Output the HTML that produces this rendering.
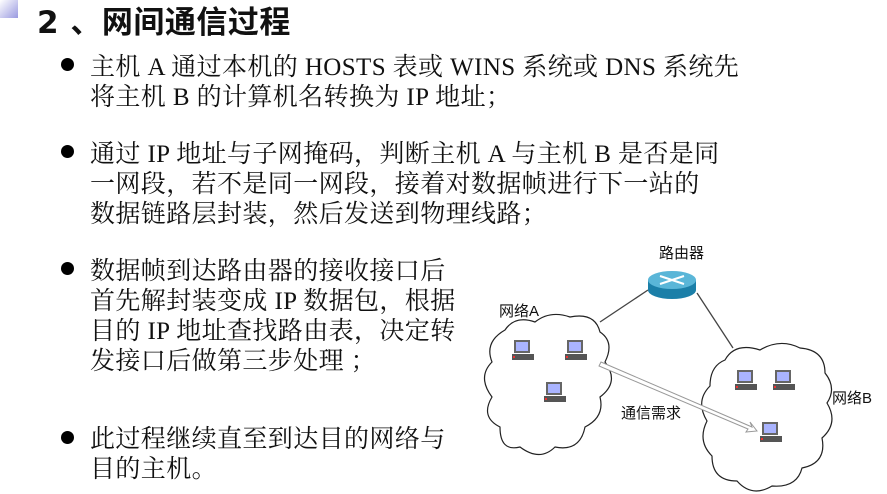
<!DOCTYPE html>
<html><head><meta charset="utf-8"><style>
body{margin:0;width:887px;height:494px;background:#fff;position:relative;overflow:hidden;font-family:"Liberation Serif","Noto Serif CJK SC","Noto Sans CJK SC",serif;color:#111}
.t{position:absolute;left:37px;top:-3px;font-family:"DejaVu Sans","Noto Sans CJK SC",sans-serif;font-size:31px;font-weight:bold;white-space:nowrap;letter-spacing:0.5px}
.p{position:absolute;left:90px;font-size:25px;line-height:30px;white-space:nowrap;letter-spacing:0.4px}
.b{position:absolute;left:61px;width:13px;height:13px;border-radius:50%;background:#000}
</style></head><body>
<div style="position:absolute;left:0;top:0;width:18px;height:18px;background:linear-gradient(135deg,#fff,#9a9ae0)"></div>
<div class="t">2 、网间通信过程</div>
<div class="b" style="top:58px"></div>
<div class="p" style="top:53px">主机 A 通过本机的 HOSTS 表或 WINS 系统或 DNS 系统先<br>将主机 B 的计算机名转换为 IP 地址；</div>
<div class="b" style="top:145px"></div>
<div class="p" style="top:140px">通过 IP 地址与子网掩码，判断主机 A 与主机 B 是否是同<br>一网段，若不是同一网段，接着对数据帧进行下一站的<br>数据链路层封装，然后发送到物理线路；</div>
<div class="b" style="top:262px"></div>
<div class="p" style="top:257px">数据帧到达路由器的接收接口后<br>首先解封装变成 IP 数据包，根据<br>目的 IP 地址查找路由表，决定转<br>发接口后做第三步处理 ；</div>
<div class="b" style="top:431px"></div>
<div class="p" style="top:425px">此过程继续直至到达目的网络与<br>目的主机。</div>
<svg style="position:absolute;left:0;top:0" width="887" height="494">
<defs>
<g id="pc"><rect x="2" y="0" width="16" height="13" fill="#666"/><rect x="4" y="2" width="12" height="9" fill="#aab4ff"/><rect x="0" y="14" width="22" height="6" fill="#555"/><rect x="1" y="16" width="2" height="2" fill="#e33"/></g>
</defs>
<g fill="#fff" stroke="#222" stroke-width="1.2">
<path d="M505,330 q10,-15 30,-8 q15,-12 35,-5 q25,-5 30,15 q15,10 5,30 q15,20 -5,35 q5,20 -15,30 q-5,25 -30,20 q-15,15 -35,0 q-20,5 -20,-20 q-20,-10 -8,-30 q-15,-20 0,-35 q-8,-20 13,-32z"/>
<path d="M725,360 q10,-18 35,-10 q20,-12 40,-2 q25,2 25,25 q12,15 2,30 q12,20 -5,35 q5,25 -20,30 q-5,20 -30,18 q-20,12 -35,-5 q-25,0 -25,-25 q-15,-15 -5,-35 q-12,-20 3,-35 q0,-20 15,-26z"/>
</g>
<line x1="600" y1="322" x2="648" y2="290" stroke="#444" stroke-width="1.3"/>
<line x1="697" y1="293" x2="733" y2="348" stroke="#444" stroke-width="1.3"/>
<ellipse cx="672" cy="290" rx="24" ry="9" fill="#1b7fa8"/>
<rect x="648" y="280" width="48" height="10" fill="#1b7fa8"/>
<ellipse cx="672" cy="280" rx="24" ry="9" fill="#5ab6d8"/>
<path d="M660,276 l24,8 M660,284 l24,-8" stroke="#fff" stroke-width="2"/>
<path d="M601,362 L752,427 L750,422 L757,431 L746,432 L748,429 L599,366z" fill="#fff" stroke="#999" stroke-width="1"/>
<use href="#pc" x="512" y="340"/><use href="#pc" x="565" y="340"/><use href="#pc" x="544" y="382"/>
<use href="#pc" x="735" y="370"/><use href="#pc" x="773" y="370"/><use href="#pc" x="760" y="422"/>
<g font-family="Liberation Sans,Noto Sans CJK SC,sans-serif" font-size="15" fill="#111">
<text x="659" y="258">路由器</text><text x="499" y="316">网络A</text><text x="832" y="403">网络B</text><text x="621" y="418">通信需求</text>
</g>
</svg>
</body></html>
